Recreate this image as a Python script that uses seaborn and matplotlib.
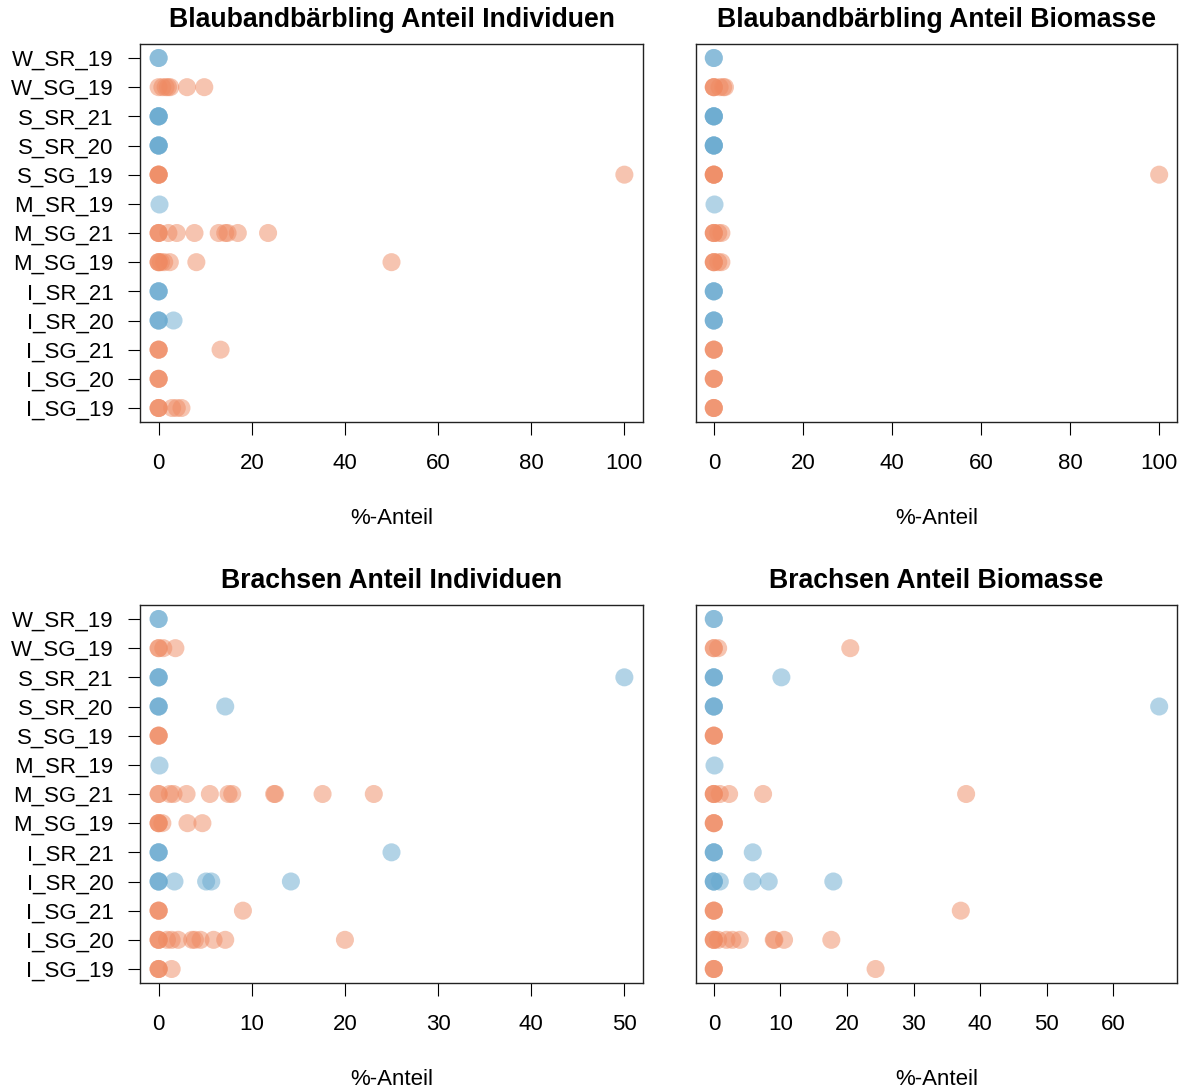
import numpy as np
import pandas as pd
import matplotlib
matplotlib.use("Agg")
import matplotlib.pyplot as plt
import seaborn as sns

# categories, top to bottom
sites = ["W_SR_19", "W_SG_19", "S_SR_21", "S_SR_20", "S_SG_19", "M_SR_19",
         "M_SG_21", "M_SG_19", "I_SR_21", "I_SR_20", "I_SG_21", "I_SG_20", "I_SG_19"]

# Blaubandbärbling – Anteil Individuen (%)
bb_ind = {
    "W_SR_19": [0, 0],
    "W_SG_19": [0, 0.8, 1.5, 2.0, 2.5, 6.1, 9.8],
    "S_SR_21": [0, 0, 0, 0],
    "S_SR_20": [0, 0, 0, 0],
    "S_SG_19": [0, 0, 0, 0, 100],
    "M_SR_19": [0],
    "M_SG_21": [0, 0, 0, 2.1, 3.9, 7.7, 12.9, 14.3, 14.8, 17.0, 23.5],
    "M_SG_19": [0, 0, 0, 0.5, 1.2, 2.4, 8.1, 50.0],
    "I_SR_21": [0, 0, 0],
    "I_SR_20": [0, 0, 0, 3.2],
    "I_SG_21": [0, 0, 0, 13.3],
    "I_SG_20": [0, 0, 0],
    "I_SG_19": [0, 0, 0, 2.9, 3.9, 4.9],
}
# Blaubandbärbling – Anteil Biomasse (%)
bb_bio = {
    "W_SR_19": [0, 0],
    "W_SG_19": [0, 0, 0, 1.3, 2.1, 2.5],
    "S_SR_21": [0, 0, 0, 0],
    "S_SR_20": [0, 0, 0, 0],
    "S_SG_19": [0, 0, 0, 0, 100],
    "M_SR_19": [0],
    "M_SG_21": [0, 0, 0, 1.0, 1.7],
    "M_SG_19": [0, 0, 0, 1.0, 1.7],
    "I_SR_21": [0, 0, 0],
    "I_SR_20": [0, 0, 0],
    "I_SG_21": [0, 0, 0],
    "I_SG_20": [0, 0, 0],
    "I_SG_19": [0, 0, 0],
}
# Brachsen – Anteil Individuen (%)
br_ind = {
    "W_SR_19": [0, 0],
    "W_SG_19": [0, 0, 0.5, 1.8],
    "S_SR_21": [0, 0, 0, 50.0],
    "S_SR_20": [0, 0, 0, 7.15],
    "S_SG_19": [0, 0, 0],
    "M_SR_19": [0],
    "M_SG_21": [0, 0, 1.2, 1.6, 3.0, 5.5, 7.5, 7.9, 12.4, 12.5, 17.6, 23.1],
    "M_SG_19": [0, 0, 0, 0.4, 3.1, 4.7],
    "I_SR_21": [0, 0, 0, 25.0],
    "I_SR_20": [0, 0, 0, 1.7, 5.1, 5.65, 14.2],
    "I_SG_21": [0, 0, 0, 9.05],
    "I_SG_20": [0, 0, 0, 0.9, 1.4, 2.1, 3.6, 3.9, 4.5, 5.9, 7.15, 20.0],
    "I_SG_19": [0, 0, 0, 1.4],
}
# Brachsen – Anteil Biomasse (%)
br_bio = {
    "W_SR_19": [0, 0],
    "W_SG_19": [0, 0, 0.65, 20.5],
    "S_SR_21": [0, 0, 0, 10.15],
    "S_SR_20": [0, 0, 0, 66.9],
    "S_SG_19": [0, 0, 0],
    "M_SR_19": [0],
    "M_SG_21": [0, 0, 0, 0.9, 2.3, 7.4, 37.9],
    "M_SG_19": [0, 0, 0],
    "I_SR_21": [0, 0, 0, 5.85],
    "I_SR_20": [0, 0, 0, 0.9, 5.8, 8.25, 17.95],
    "I_SG_21": [0, 0, 0, 37.1],
    "I_SG_20": [0, 0, 0, 0.65, 1.9, 2.8, 3.9, 9.0, 9.1, 10.55, 17.65],
    "I_SG_19": [0, 0, 0, 24.3],
}

titles = ["Blaubandbärbling Anteil Individuen", "Blaubandbärbling Anteil Biomasse",
          "Brachsen Anteil Individuen", "Brachsen Anteil Biomasse"]
xticks_list = [np.arange(0, 101, 20), np.arange(0, 101, 20),
               np.arange(0, 51, 10), np.arange(0, 61, 10)]
xlabel = "%-Anteil"
palette = {"SG": "#EF8A62", "SR": "#67A9CF"}

sns.set_style("white")
plt.rcParams["font.family"] = ["Liberation Sans", "DejaVu Sans"]
plt.rcParams["text.color"] = "black"
plt.rcParams["axes.labelcolor"] = "black"
plt.rcParams["xtick.color"] = "black"
plt.rcParams["ytick.color"] = "black"

fig = plt.figure(figsize=(11.85, 10.91), dpi=100)
W, H = 1185, 1091
boxes = [(140, 44, 643, 422), (696, 44, 1177, 422),
         (140, 605, 643, 983), (696, 605, 1177, 983)]

for i, data in enumerate([bb_ind, bb_bio, br_ind, br_bio]):
    l, t, r, b = boxes[i]
    ax = fig.add_axes([l / W, (H - b) / H, (r - l) / W, (b - t) / H])
    rows = []
    for s in sites:
        for v in data[s]:
            rows.append({"site": s, "value": v, "type": "SG" if "_SG_" in s else "SR"})
    df = pd.DataFrame(rows)
    sns.stripplot(data=df, x="value", y="site", order=sites, hue="type",
                  hue_order=["SG", "SR"], palette=palette, jitter=False,
                  size=13, alpha=0.5, linewidth=0, legend=False, ax=ax)
    vmax = df["value"].max()
    pad = 0.04 * vmax
    ax.set_xlim(-pad, vmax + pad)
    ax.set_ylim(12.48, -0.48)
    ax.set_xticks(xticks_list[i])
    ax.set_xticklabels([str(v) for v in xticks_list[i]])
    if i % 2 == 0:
        ax.set_yticks(range(len(sites)))
        ax.set_yticklabels(sites)
    else:
        ax.set_yticks([])
    ax.set_ylabel("")
    ax.set_xlabel(xlabel, fontsize=16, labelpad=25, color="black")
    ax.set_title(titles[i], fontsize=19.2, fontweight="bold", pad=12, color="black")
    ax.tick_params(axis="both", which="major", labelsize=16, length=9,
                   width=0.8, color="black", labelcolor="black", direction="out",
                   bottom=True, left=(i % 2 == 0))
    ax.tick_params(axis="x", pad=13)
    ax.tick_params(axis="y", pad=10)
    for sp in ax.spines.values():
        sp.set_visible(True)
        sp.set_color("#222222")
        sp.set_linewidth(1.0)
    ax.grid(False)

fig.savefig("out.png", dpi=100)
